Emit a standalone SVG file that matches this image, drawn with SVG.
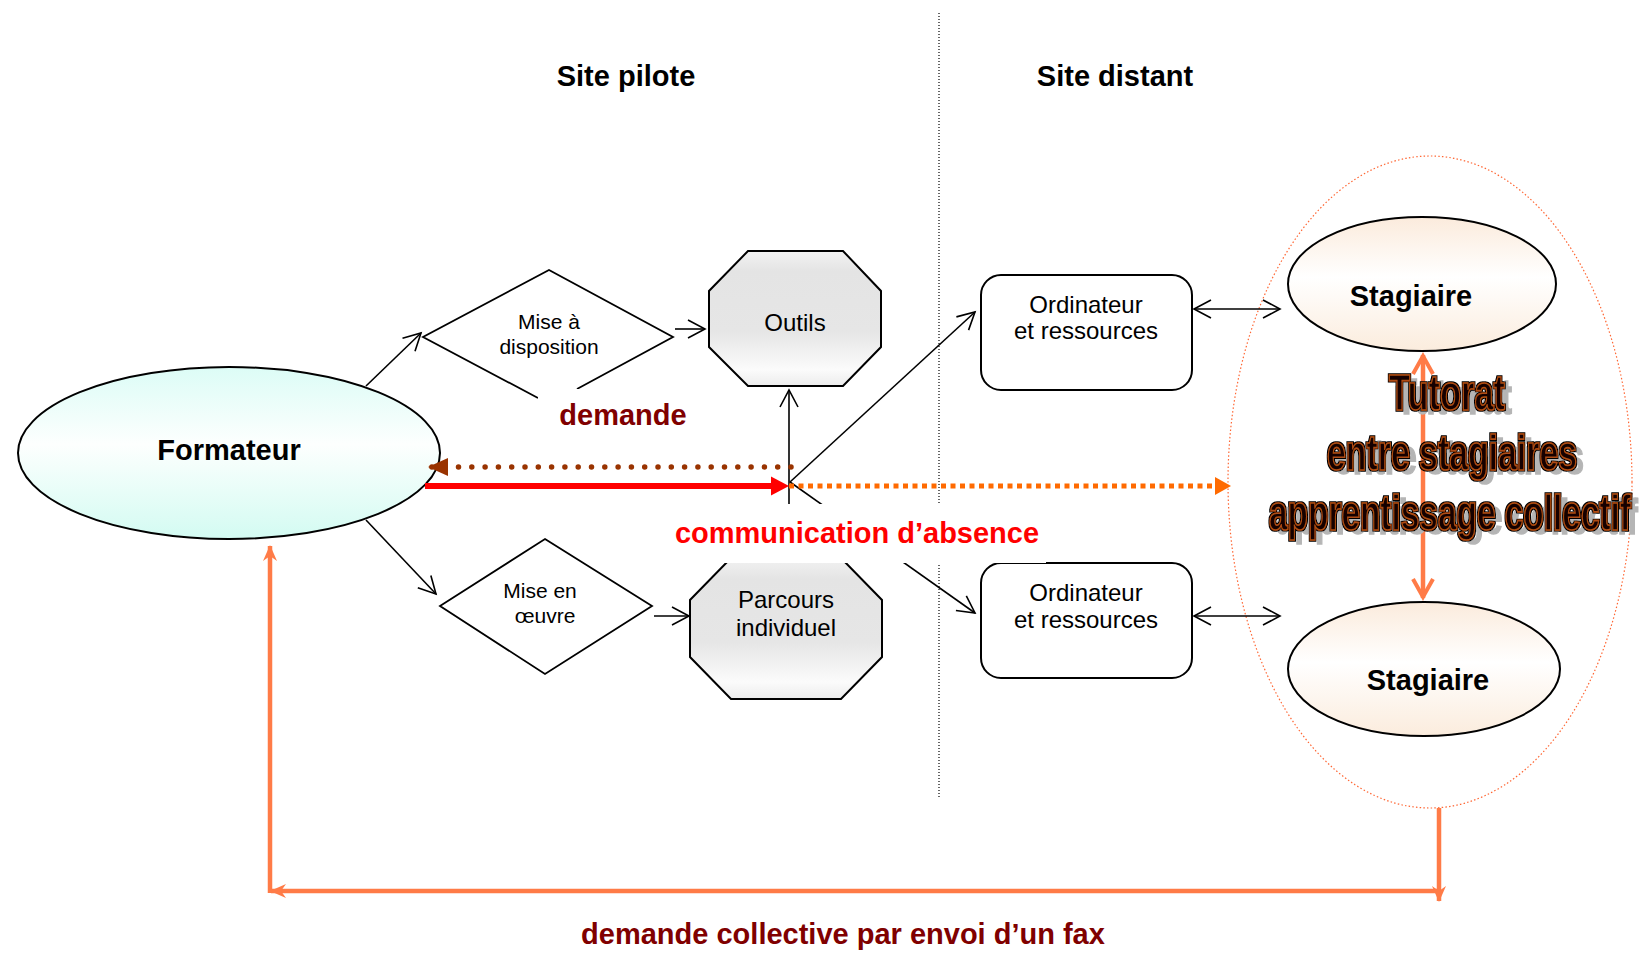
<svg xmlns="http://www.w3.org/2000/svg" width="1642" height="953" viewBox="0 0 1642 953">
<style>
text{font-family:"Liberation Sans",Arial,sans-serif}
.b{font-weight:bold}
.n{fill:#000;text-anchor:middle}
.ln{fill:none;stroke:#000;stroke-width:1.6}
.coral{fill:none;stroke:#ff7b47;stroke-width:4.5}
.tut{font-weight:bold;font-size:50px;text-anchor:middle;fill:#140500;stroke:#b04c12;stroke-width:1.6}
</style>
<defs>
<linearGradient id="gF" x1="0" y1="0" x2="0" y2="1">
<stop offset="0" stop-color="#dcfcf6"/><stop offset="0.45" stop-color="#fdfffe"/><stop offset="1" stop-color="#d3fbf2"/>
</linearGradient>
<linearGradient id="gS" x1="0" y1="0" x2="0" y2="1">
<stop offset="0" stop-color="#fbebdc"/><stop offset="0.45" stop-color="#ffffff"/><stop offset="1" stop-color="#fbecdd"/>
</linearGradient>
<linearGradient id="gO" x1="0" y1="0" x2="0" y2="1">
<stop offset="0" stop-color="#f2f2f2"/><stop offset="0.15" stop-color="#e4e4e4"/><stop offset="0.6" stop-color="#e6e6e6"/><stop offset="0.88" stop-color="#fbfbfb"/><stop offset="1" stop-color="#ececec"/>
</linearGradient>
<filter id="tutFx" x="-10%" y="-30%" width="125%" height="170%">
<feMorphology in="SourceAlpha" operator="dilate" radius="1.1" result="dil"/>
<feOffset in="SourceAlpha" dx="7" dy="4" result="off"/>
<feFlood flood-color="#b5b5b5" result="grey"/>
<feComposite in="grey" in2="off" operator="in" result="shadow"/>
<feFlood flood-color="#000" result="blk"/>
<feComposite in="blk" in2="dil" operator="in" result="outline"/>
<feMerge><feMergeNode in="shadow"/><feMergeNode in="outline"/><feMergeNode in="SourceGraphic"/></feMerge>
</filter>
<marker id="open" viewBox="-20 -12 24 24" markerWidth="24" markerHeight="24" markerUnits="userSpaceOnUse" refX="0" refY="0" orient="auto-start-reverse" overflow="visible">
<path d="M-17,-9 L0,0 L-17,9" fill="none" stroke="#000" stroke-width="1.6"/>
</marker>
<marker id="vee" viewBox="-24 -14 28 28" markerWidth="28" markerHeight="28" markerUnits="userSpaceOnUse" refX="0" refY="0" orient="auto-start-reverse" overflow="visible">
<path d="M-19,-10 L-1,0 L-19,10" fill="none" stroke="#ff7b47" stroke-width="4"/>
</marker>
<marker id="stealth" viewBox="-20 -10 22 20" markerWidth="22" markerHeight="20" markerUnits="userSpaceOnUse" refX="0" refY="0" orient="auto" overflow="visible">
<path d="M1,0 L-15,-7 L-10,0 L-15,7 Z" fill="#ff7b47"/>
</marker>
<marker id="triRed" viewBox="-20 -10 22 20" markerWidth="22" markerHeight="20" markerUnits="userSpaceOnUse" refX="0" refY="0" orient="auto" overflow="visible">
<path d="M0,0 L-18,-9.5 L-18,9.5 Z" fill="#ff0000"/>
</marker>
<marker id="triOr" viewBox="-20 -10 22 20" markerWidth="22" markerHeight="20" markerUnits="userSpaceOnUse" refX="0" refY="0" orient="auto" overflow="visible">
<path d="M0,0 L-16,-9 L-16,9 Z" fill="#ff6a00"/>
</marker>
<marker id="triBr" viewBox="-22 -10 24 20" markerWidth="24" markerHeight="20" markerUnits="userSpaceOnUse" refX="0" refY="0" orient="auto" overflow="visible">
<path d="M0,0 L-20,-9 L-20,9 Z" fill="#993300"/>
</marker>
</defs>
<rect width="1642" height="953" fill="#fff"/>

<g id="divider">
<line x1="939" y1="13" x2="939" y2="798" stroke="#000" stroke-width="1.2" stroke-dasharray="1 2"/>
</g>
<g id="headers">
<text class="b n" x="626" y="86" font-size="29">Site pilote</text>
<text class="b n" x="1115" y="86" font-size="29">Site distant</text>
</g>

<g id="group-ellipse">
<ellipse cx="1430" cy="482" rx="202" ry="326" fill="none" stroke="#ff6633" stroke-width="1.2" stroke-dasharray="1.5 2.2"/>
</g>

<g id="formateur">
<ellipse cx="229" cy="453" rx="211" ry="86" fill="url(#gF)" stroke="#000" stroke-width="2"/>
<text class="b n" x="229" y="460" font-size="29">Formateur</text>
</g>

<g id="mise-disposition">
<polyline points="538,398 423,337 549,270 673,337 577,389" fill="#fff" stroke="#000" stroke-width="1.8"/>
<text class="n" x="549" y="329" font-size="21">Mise à</text>
<text class="n" x="549" y="354" font-size="21">disposition</text>
</g>

<g id="outils">
<polygon points="748,251 843,251 881,291 881,347 843,386 748,386 709,347 709,291" fill="url(#gO)" stroke="#000" stroke-width="2"/>
<text class="n" x="795" y="331" font-size="24">Outils</text>
</g>

<g id="mise-oeuvre">
<polygon points="545,539 652,606 545,674 440,606" fill="#fff" stroke="#000" stroke-width="1.8"/>
<text class="n" x="540" y="598" font-size="21">Mise en</text>
<text class="n" x="545" y="623" font-size="21">œuvre</text>
</g>

<g id="parcours">
<polygon points="731,558 841,558 882,600 882,657 841,699 731,699 690,657 690,600" fill="url(#gO)" stroke="#000" stroke-width="2"/>
<text class="n" x="786" y="608" font-size="24">Parcours</text>
<text class="n" x="786" y="636" font-size="24">individuel</text>
</g>

<g id="ordinateur1">
<rect x="981" y="275" width="211" height="115" rx="20" fill="#fff" stroke="#000" stroke-width="2"/>
<text class="n" x="1086" y="313" font-size="24">Ordinateur</text>
<text class="n" x="1086" y="339" font-size="24">et ressources</text>
</g>

<g id="ordinateur2">
<rect x="981" y="563" width="211" height="115" rx="20" fill="#fff" stroke="#000" stroke-width="2"/>
<text class="n" x="1086" y="601" font-size="24">Ordinateur</text>
<text class="n" x="1086" y="628" font-size="24">et ressources</text>
</g>

<g id="connectors">
<line class="ln" x1="366" y1="386" x2="421" y2="333" marker-end="url(#open)"/>
<line class="ln" x1="366" y1="520" x2="436" y2="594" marker-end="url(#open)"/>
<line class="ln" x1="675" y1="329" x2="705" y2="329" marker-end="url(#open)"/>
<line class="ln" x1="654" y1="616" x2="689" y2="616" marker-end="url(#open)"/>
<line class="ln" x1="789" y1="558" x2="789" y2="390" marker-end="url(#open)"/>
<line class="ln" x1="790" y1="482" x2="975" y2="312" marker-end="url(#open)"/>
<line class="ln" x1="790" y1="482" x2="975" y2="613" marker-end="url(#open)"/>
<line class="ln" x1="1194" y1="309" x2="1280" y2="309" marker-start="url(#open)" marker-end="url(#open)"/>
<line class="ln" x1="1194" y1="616" x2="1280" y2="616" marker-start="url(#open)" marker-end="url(#open)"/>
<line x1="791" y1="467" x2="428" y2="467" stroke="#993300" stroke-width="5.5" stroke-linecap="round" stroke-dasharray="0 13.3" marker-end="url(#triBr)"/>
<line x1="425" y1="486" x2="772" y2="486" stroke="#ff0000" stroke-width="6"/>
<line x1="770" y1="486" x2="789" y2="486" stroke="none" marker-end="url(#triRed)"/>
<line x1="789" y1="486" x2="1216" y2="486" stroke="#ff6a00" stroke-width="5" stroke-dasharray="5 4.5"/>
<line x1="1215" y1="486" x2="1231" y2="486" stroke="none" marker-end="url(#triOr)"/>
<line class="coral" x1="1423" y1="355" x2="1423" y2="598" marker-start="url(#vee)" marker-end="url(#vee)"/>
<line class="coral" x1="1439" y1="808" x2="1439" y2="901" marker-end="url(#stealth)"/>
<line class="coral" x1="1441" y1="891" x2="271" y2="891" marker-end="url(#stealth)"/>
<line class="coral" x1="270" y1="893" x2="270" y2="546" marker-end="url(#stealth)"/>
</g>

<g id="labels">
<rect x="538" y="389" width="160" height="44" fill="#fff"/>
<text class="b" x="623" y="425" font-size="29" fill="#800000" text-anchor="middle">demande</text>
<rect x="668" y="504" width="378" height="59" fill="#fff"/>
<text class="b" x="857" y="543" font-size="29" fill="#ff0000" text-anchor="middle">communication d’absence</text>
<text class="b" x="843" y="944" font-size="29" fill="#800000" text-anchor="middle">demande collective par envoi d’un fax</text>
</g>

<g id="stagiaire1">
<ellipse cx="1422" cy="284" rx="134" ry="67" fill="url(#gS)" stroke="#000" stroke-width="2"/>
<text class="b n" x="1411" y="306" font-size="29">Stagiaire</text>
</g>

<g id="stagiaire2">
<ellipse cx="1424" cy="669" rx="136" ry="67" fill="url(#gS)" stroke="#000" stroke-width="2"/>
<text class="b n" x="1428" y="690" font-size="29">Stagiaire</text>
</g>

<g id="tutorat" filter="url(#tutFx)">
<text class="tut" x="1447" y="410" textLength="116" lengthAdjust="spacingAndGlyphs">Tutorat</text>
<text class="tut" x="1452" y="470" textLength="250" lengthAdjust="spacingAndGlyphs">entre stagiaires</text>
<text class="tut" x="1450" y="530" textLength="362" lengthAdjust="spacingAndGlyphs">apprentissage collectif</text>
</g>
</svg>
